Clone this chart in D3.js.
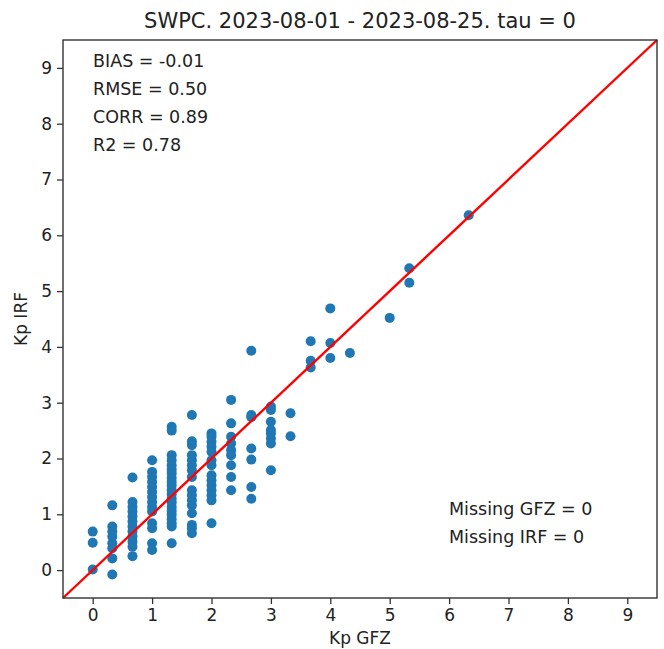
<!DOCTYPE html>
<html>
<head>
<meta charset="utf-8">
<script src="https://cdn.jsdelivr.net/npm/d3@7"></script>
<style>
  body { margin: 0; background: #fff; }
  svg text { font-family: "DejaVu Sans", sans-serif; fill: #222; }
</style>
</head>
<body>
<div id="chart"></div>
<script>
// Kp GFZ values (x) and matching Kp IRF values (y), one list per x column
var kpGfz = [0, 0.33, 0.67, 1, 1.33, 1.67, 2, 2.33, 2.67, 3, 3.33, 3.67, 4, 4.33, 5, 5.33, 6.33];
var kpIrf = [
    [0.69, 0.49, 0.01],
    [1.16, 0.78, 0.69, 0.60, 0.48, 0.39, 0.21, -0.08],
    [1.66, 1.22, 1.13, 1.05, 0.96, 0.87, 0.78, 0.69, 0.60, 0.51, 0.42, 0.25],
    [1.97, 1.76, 1.67, 1.58, 1.49, 1.40, 1.31, 1.22, 1.13, 1.05, 0.84, 0.75, 0.48, 0.36],
    [2.57, 2.50, 2.06, 1.97, 1.88, 1.80, 1.73, 1.65, 1.58, 1.51, 1.43, 1.36, 1.28, 1.21, 1.13, 1.06, 0.99, 0.91, 0.84, 0.78, 0.48],
    [2.78, 2.31, 2.24, 2.06, 1.97, 1.88, 1.79, 1.67, 1.43, 1.34, 1.25, 1.16, 1.02, 0.81, 0.75, 0.66],
    [2.45, 2.39, 2.30, 2.21, 2.12, 1.97, 1.88, 1.70, 1.61, 1.52, 1.43, 1.34, 1.25, 0.84],
    [3.05, 2.63, 2.39, 2.27, 2.15, 2.06, 1.88, 1.67, 1.43],
    [3.93, 2.78, 2.74, 2.18, 1.98, 1.49, 1.28],
    [2.93, 2.87, 2.66, 2.51, 2.45, 2.36, 2.27, 1.79],
    [2.81, 2.40],
    [4.10, 3.75, 3.63],
    [4.69, 4.07, 3.80],
    [3.89],
    [4.52],
    [5.41, 5.15],
    [6.36]
];
var tickValues = [0, 1, 2, 3, 4, 5, 6, 7, 8, 9];
var statsLines = ["BIAS = -0.01", "RMSE = 0.50", "CORR = 0.89", "R2 = 0.78"];
var missingLines = ["Missing GFZ = 0", "Missing IRF = 0"];

var points = [];
kpGfz.forEach(function (gx, i) {
    kpIrf[i].forEach(function (gy) { points.push({x: gx, y: gy}); });
});

var W = 664, H = 649;
var margin = {top: 40, right: 7, bottom: 51, left: 63};
var width = W - margin.left - margin.right,
    height = H - margin.top - margin.bottom;

var svg = d3.select("#chart").append("svg")
    .attr("width", W)
    .attr("height", H);

var g = svg.append("g")
    .attr("transform", "translate(" + margin.left + "," + margin.top + ")");

var x = d3.scaleLinear().domain([-0.5, 9.5]).range([0, width]);
var y = d3.scaleLinear().domain([-0.5, 9.5]).range([height, 0]);

// scatter points
g.selectAll(".dot")
    .data(points)
    .enter().append("circle")
    .attr("class", "dot")
    .attr("cx", function (d) { return x(d.x); })
    .attr("cy", function (d) { return y(d.y); })
    .attr("r", 5)
    .style("fill", "#1f77b4");

// 1:1 line
g.append("line")
    .attr("x1", x(-0.5)).attr("y1", y(-0.5))
    .attr("x2", x(9.5)).attr("y2", y(9.5))
    .style("stroke", "red")
    .style("stroke-width", 2.4);

// axes
var xAxis = g.append("g")
    .attr("transform", "translate(0," + height + ")")
    .call(d3.axisBottom(x).tickValues(tickValues).tickSize(6).tickPadding(5));
var yAxis = g.append("g")
    .call(d3.axisLeft(y).tickValues(tickValues).tickSize(6).tickPadding(5));
[xAxis, yAxis].forEach(function (a) {
    a.selectAll("text").style("font-size", "17px").style("font-family", "DejaVu Sans");
    a.selectAll("line").style("stroke", "#333").style("stroke-width", 1.3);
    a.select(".domain").remove();
});

// frame
g.append("rect")
    .attr("width", width).attr("height", height)
    .style("fill", "none").style("stroke", "#333").style("stroke-width", 1.4);

// stats text
g.selectAll(".stat")
    .data(statsLines)
    .enter().append("text")
    .attr("x", 30)
    .attr("y", function (d, i) { return 27 + i * 28; })
    .style("font-size", "17.5px")
    .text(function (d) { return d; });

g.selectAll(".missing")
    .data(missingLines)
    .enter().append("text")
    .attr("x", 386)
    .attr("y", function (d, i) { return 475 + i * 28; })
    .style("font-size", "17.5px")
    .text(function (d) { return d; });

// title and labels
svg.append("text")
    .attr("x", margin.left + width / 2)
    .attr("y", 28)
    .attr("text-anchor", "middle")
    .style("font-size", "21px")
    .text("SWPC. 2023-08-01 - 2023-08-25. tau = 0");

svg.append("text")
    .attr("x", margin.left + width / 2)
    .attr("y", 644)
    .attr("text-anchor", "middle")
    .style("font-size", "17px")
    .text("Kp GFZ");

svg.append("text")
    .attr("transform", "translate(27," + (margin.top + height / 2) + ") rotate(-90)")
    .attr("text-anchor", "middle")
    .style("font-size", "17px")
    .text("Kp IRF");
</script>
</body>
</html>
